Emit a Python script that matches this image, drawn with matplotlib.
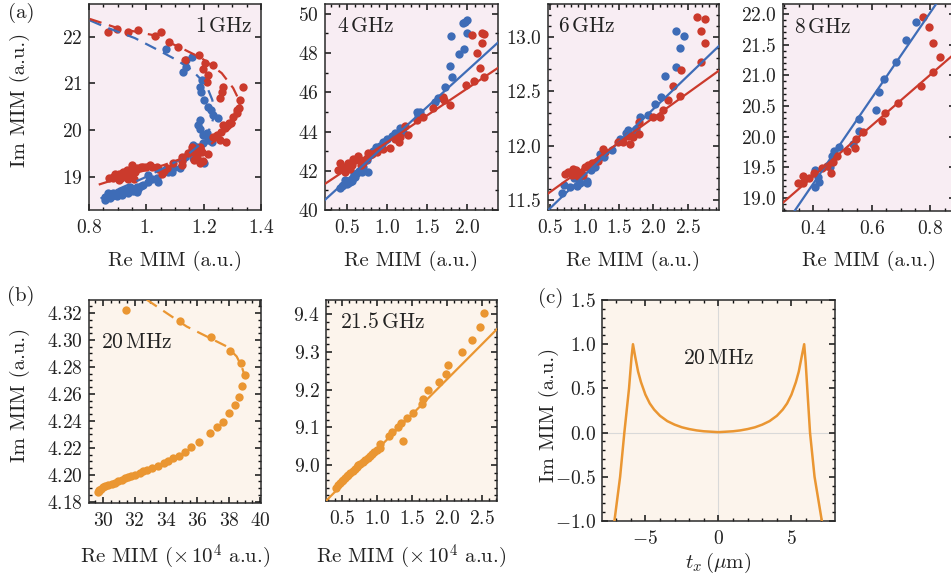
import numpy as np
import matplotlib
matplotlib.use("Agg")
import matplotlib.pyplot as plt
from matplotlib.ticker import FixedLocator, MultipleLocator, FixedFormatter

plt.rcParams['mathtext.fontset'] = 'cm'
plt.rcParams['font.family'] = ['cmr10', 'DejaVu Serif']
plt.rcParams['axes.unicode_minus'] = False

BLUE = '#3e6cb7'
RED = '#cb3a2c'
ORANGE = '#ea9632'
BG_A = '#f8edf3'
BG_B = '#fcf4ec'
FRAME = '#2a2a2a'

# ---------------- data: (a) 1 GHz ----------------
ghz1_red_re = [0.867, 0.897, 0.937, 0.972, 1.030, 1.051, 1.079, 1.111, 1.135, 1.185, 1.205, 1.234,
               1.197, 1.216, 1.213, 1.268, 1.263, 1.338, 1.257, 1.327, 1.323, 1.318, 1.301, 1.290,
               1.274, 1.259, 1.245, 1.257, 1.278, 1.234, 1.268, 1.297, 1.315,
               1.187, 1.158, 1.193, 1.216, 1.176, 1.165, 1.187, 1.123, 1.123, 1.094, 1.071, 1.054,
               1.036, 1.013, 0.989, 0.966, 0.949, 0.931, 0.920, 0.903, 0.885, 0.903, 0.940, 0.960,
               0.980, 1.000, 0.950, 0.925, 0.912, 0.870, 0.890, 1.020, 1.040, 1.060, 0.958, 0.935,
               1.147, 1.170, 1.181, 1.199, 1.123, 0.885, 0.902]
ghz1_red_im = [22.09, 22.16, 22.11, 22.14, 22.01, 22.11, 21.89, 21.79, 21.50, 21.61, 21.44, 21.39,
               21.30, 21.18, 21.02, 20.92, 20.82, 20.93, 20.68, 20.64, 20.47, 20.43, 20.29, 20.15,
               20.04, 19.95, 19.90, 19.79, 19.75, 19.86, 20.11, 20.15, 20.36,
               19.64, 19.64, 19.53, 19.49, 19.43, 19.36, 19.29, 19.43, 19.25, 19.29, 19.18, 19.07,
               19.22, 19.25, 19.22, 19.18, 19.25, 19.14, 19.11, 19.07, 19.00, 18.93, 19.05, 19.10,
               19.20, 19.22, 19.18, 19.02, 18.98, 18.98, 19.05, 19.20, 19.16, 19.12, 18.96, 18.95,
               19.52, 19.50, 19.57, 19.33, 19.33, 18.97, 19.00]
ghz1_blue_re = [1.069, 1.158, 1.138, 1.138, 1.127, 1.193, 1.187, 1.190, 1.201, 1.216, 1.227, 1.234,
                1.251, 1.187, 1.181, 1.187, 1.199, 1.216, 1.199, 1.228, 1.176, 1.158, 1.164, 1.202,
                1.123, 1.117, 1.094, 1.077, 1.059, 1.042, 1.007, 1.007, 0.989, 0.966, 0.966, 0.943,
                0.926, 0.902, 0.885, 0.867, 0.856, 0.873, 0.896, 0.915, 0.935, 0.955, 0.980, 1.020,
                1.036, 0.880, 0.910, 0.950, 1.135, 1.164, 1.210, 1.088, 0.972, 0.856]
ghz1_blue_im = [21.73, 21.56, 21.50, 21.36, 21.25, 21.07, 20.92, 20.82, 20.64, 20.50, 20.43, 20.32,
                20.25, 20.22, 20.11, 20.02, 19.90, 19.79, 19.72, 19.75, 19.64, 19.57, 19.40, 19.29,
                19.36, 19.18, 19.18, 19.11, 19.11, 18.90, 19.04, 18.90, 18.82, 18.79, 18.68, 18.79,
                18.72, 18.68, 18.65, 18.65, 18.50, 18.54, 18.58, 18.62, 18.66, 18.70, 18.80, 18.95,
                18.97, 18.60, 18.70, 18.74, 19.43, 19.68, 19.93, 19.11, 18.75, 18.57]
ghz1_blue_fit_re = [0.803, 0.856, 0.960, 1.036, 1.106, 1.158, 1.193, 1.216, 1.230, 1.236, 1.235,
                    1.229, 1.220, 1.205, 1.181, 1.135, 1.071, 0.989, 0.896, 0.821]
ghz1_blue_fit_im = [22.35, 22.21, 21.97, 21.73, 21.50, 21.29, 21.07, 20.86, 20.65, 20.45, 20.30,
                    20.15, 20.02, 19.85, 19.66, 19.43, 19.22, 18.97, 18.72, 18.47]
ghz1_red_fit_re = [0.803, 0.902, 1.019, 1.111, 1.193, 1.263, 1.303, 1.322, 1.328, 1.324, 1.312,
                   1.295, 1.272, 1.245, 1.216, 1.150, 1.060, 0.955, 0.827]
ghz1_red_fit_im = [22.38, 22.18, 22.04, 21.79, 21.54, 21.22, 20.90, 20.66, 20.47, 20.32, 20.18,
                   20.06, 19.93, 19.79, 19.66, 19.45, 19.25, 19.07, 18.82]

# ---------------- data: (a) 4 GHz ----------------
ghz4_blue_re = [1.971, 2.000, 1.943, 1.797, 2.000, 1.959, 1.901, 1.785, 1.806, 1.723, 1.639, 1.598,
                1.371, 1.412, 1.390, 1.163, 1.205, 1.060, 0.955, 0.914, 0.831, 0.790, 0.749, 0.769,
                0.687, 0.624, 0.583, 0.540, 0.458, 0.417, 0.500, 0.560, 0.600, 0.480, 0.590,
                0.650, 0.700, 1.100, 1.000, 0.870, 0.440, 0.520]
ghz4_blue_im = [49.57, 49.67, 49.53, 48.88, 49.01, 48.23, 47.96, 47.35, 46.80, 46.25, 45.70, 45.53,
                45.02, 44.97, 44.85, 44.17, 43.98, 43.79, 43.45, 43.28, 43.03, 42.80, 42.53, 41.95,
                41.95, 41.87, 41.61, 41.45, 41.28, 41.11, 41.30, 41.50, 41.70, 41.55, 41.85,
                42.00, 42.20, 43.90, 43.60, 43.20, 41.20, 41.40]
ghz4_red_re = [2.055, 2.179, 2.200, 2.187, 2.117, 2.158, 2.200, 2.083, 1.984, 1.694, 1.710, 1.785,
               1.578, 1.453, 1.371, 1.225, 1.266, 1.163, 1.150, 1.039, 0.873, 0.820, 0.749, 0.645,
               0.600, 0.520, 0.417, 0.395, 0.470, 0.560, 0.660, 0.760, 0.480, 0.430, 0.540, 0.700,
               0.950, 1.100, 0.580, 0.680]
ghz4_red_im = [48.93, 49.01, 48.95, 48.50, 47.99, 47.23, 46.77, 46.55, 46.38, 45.78, 45.61, 45.36,
               45.19, 44.76, 44.59, 44.29, 43.83, 43.74, 43.48, 43.14, 42.97, 42.85, 42.63, 42.76,
               42.55, 42.38, 42.42, 42.04, 42.20, 42.30, 42.55, 42.90, 41.95, 42.15, 42.10, 42.40,
               43.10, 43.60, 42.60, 42.30]
ghz4_blue_fit = (3.73, 39.66)   # slope, intercept
ghz4_red_fit = (2.75, 40.70)

# ---------------- data: (a) 6 GHz ----------------
ghz6_blue_re = [2.321, 2.441, 2.379, 2.331, 2.162, 2.114, 2.017, 1.921, 1.810, 1.753, 1.632, 1.600,
                1.512, 1.391, 1.222, 1.150, 1.100, 1.030, 1.040, 0.934, 0.886, 0.789, 0.669, 0.700,
                0.850, 0.960, 1.280, 1.700]
ghz6_blue_im = [13.05, 13.01, 12.90, 12.72, 12.64, 12.45, 12.38, 12.28, 12.26, 12.15, 12.14, 12.12,
                12.06, 11.96, 11.92, 11.80, 11.78, 11.68, 11.66, 11.66, 11.63, 11.62, 11.57, 11.64,
                11.70, 11.72, 11.90, 12.10]
ghz6_red_re = [2.634, 2.754, 2.692, 2.754, 2.692, 2.403, 2.282, 2.388, 2.210, 2.137, 2.090, 1.993,
               1.790, 1.790, 1.632, 1.656, 1.560, 1.487, 1.270, 1.198, 1.103, 0.837, 0.765, 0.720,
               0.880, 0.950, 1.000, 1.050, 0.900, 0.980, 1.300, 1.700, 0.820]
ghz6_red_im = [13.18, 13.16, 13.05, 12.94, 12.77, 12.69, 12.55, 12.46, 12.42, 12.33, 12.26, 12.26,
               12.22, 12.11, 12.09, 12.02, 12.03, 12.03, 11.97, 11.86, 11.84, 11.79, 11.76, 11.74,
               11.78, 11.75, 11.80, 11.82, 11.72, 11.73, 11.94, 12.08, 11.73]
ghz6_blue_fit = (0.608, 11.122)
ghz6_red_fit = (0.455, 11.347)

# ---------------- data: (a) 8 GHz ----------------
ghz8_blue_re = [0.751, 0.718, 0.682, 0.642, 0.624, 0.614, 0.558, 0.556, 0.535, 0.487, 0.471, 0.463,
                0.457, 0.406, 0.417, 0.421, 0.406]
ghz8_blue_im = [21.86, 21.58, 21.21, 20.94, 20.72, 20.43, 20.29, 20.10, 19.88, 19.84, 19.77, 19.68,
                19.51, 19.45, 19.35, 19.27, 19.18]
ghz8_red_re = [0.777, 0.797, 0.811, 0.834, 0.809, 0.768, 0.691, 0.646, 0.634, 0.571, 0.545, 0.543,
               0.517, 0.482, 0.466, 0.461, 0.446, 0.429, 0.402, 0.386, 0.366, 0.366, 0.349]
ghz8_red_im = [21.95, 21.79, 21.53, 21.29, 21.06, 20.82, 20.55, 20.38, 20.25, 20.07, 19.96, 19.81,
               19.77, 19.68, 19.59, 19.41, 19.52, 19.49, 19.41, 19.33, 19.36, 19.25, 19.25]
ghz8_blue_fit = (6.94, 16.461)
ghz8_red_fit = (4.12, 17.707)

# ---------------- data: (b) 20 MHz ----------------
mhz20_re = [31.45, 34.89, 36.85, 38.08, 38.76, 39.04, 38.87, 38.68, 38.40, 38.04, 37.62, 37.27,
            36.81, 36.13, 35.58, 35.21, 34.85, 34.43, 34.15, 33.85, 33.51, 33.09, 32.77, 32.55,
            32.34, 32.02, 31.80, 31.60, 31.38, 31.17, 30.95, 30.75, 30.55, 30.32, 30.15, 30.00,
            29.85, 29.75, 29.68, 29.72]
mhz20_im = [4.3225, 4.3138, 4.3020, 4.2915, 4.2830, 4.2740, 4.2660, 4.2576, 4.2519, 4.2457, 4.2395,
            4.2353, 4.2313, 4.2246, 4.2209, 4.2172, 4.2140, 4.2123, 4.2105, 4.2085, 4.2066, 4.2048,
            4.2036, 4.2025, 4.2016, 4.1999, 4.1990, 4.1982, 4.1972, 4.1962, 4.1952, 4.1942, 4.1933,
            4.1924, 4.1915, 4.1907, 4.1897, 4.1887, 4.1870, 4.1880]
mhz20_fit_re = [32.77, 34.04, 35.32, 36.60, 37.87, 38.50, 38.82, 39.00]
mhz20_fit_im = [4.3300, 4.3200, 4.3100, 4.3026, 4.2952, 4.2878, 4.2803, 4.2740]

# ---------------- data: (b) 21.5 GHz ----------------
ghz215_re = [2.533, 2.476, 2.357, 2.223, 2.023, 1.990, 1.890, 1.737, 1.666, 1.643, 1.514, 1.438,
             1.380, 1.343, 1.300, 1.214, 1.181, 1.047, 1.047, 1.000, 0.960, 0.929, 0.904, 0.870,
             0.833, 0.800, 0.762, 0.740, 0.714, 0.690, 0.657, 0.625, 0.595, 0.570, 0.547, 0.520,
             0.500, 0.475, 0.452, 0.419]
ghz215_im = [9.402, 9.365, 9.330, 9.300, 9.265, 9.242, 9.220, 9.198, 9.175, 9.162, 9.139, 9.125,
             9.063, 9.111, 9.100, 9.087, 9.076, 9.057, 9.045, 9.041, 9.036, 9.030, 9.023, 9.018,
             9.013, 9.008, 9.004, 8.999, 8.995, 8.990, 8.984, 8.979, 8.975, 8.970, 8.966, 8.961,
             8.957, 8.952, 8.948, 8.940]
ghz215_fit = (0.186, 8.854)

# ---------------- data: (c) line profile ----------------
tx_um = [-7.40, -7.12, -6.73, -6.44, -6.12, -5.95, -5.85, -5.70, -5.50, -5.30, -5.00, -4.70, -4.40,
         -4.00, -3.50, -3.00, -2.50, -2.00, -1.50, -1.00, -0.50, 0.00, 0.50, 1.00, 1.50, 2.00,
         2.50, 3.00, 3.50, 4.00, 4.40, 4.70, 5.00, 5.30, 5.50, 5.70, 5.87, 5.97, 6.10, 6.27,
         6.58, 7.08, 7.35]
im_profile = [-1.30, -1.00, -0.50, 0.00, 0.50, 0.85, 1.00, 0.86, 0.69, 0.57, 0.43, 0.33, 0.26,
              0.19, 0.13, 0.090, 0.060, 0.040, 0.025, 0.015, 0.010, 0.005, 0.010, 0.015, 0.025,
              0.040, 0.060, 0.090, 0.13, 0.19, 0.26, 0.33, 0.43, 0.57, 0.69, 0.86, 1.00, 0.80,
              0.45, 0.00, -0.50, -1.00, -1.30]

W, H = 951, 577
fig = plt.figure(figsize=(W / 100, H / 100), dpi=100)


def make_axes(left, right, top, bottom, face):
    ax = fig.add_axes([left / W, 1 - bottom / H, (right - left) / W, (bottom - top) / H])
    ax.set_facecolor(face)
    for s in ax.spines.values():
        s.set_color(FRAME)
        s.set_linewidth(1.1)
    ax.tick_params(which='both', direction='in', top=True, right=True, color='#111111',
                   labelsize=14, labelcolor='#222222')
    ax.tick_params(axis='x', pad=6.5)
    ax.tick_params(axis='y', pad=4.5)
    ax.tick_params(which='major', length=4.5, width=1.1)
    ax.tick_params(which='minor', length=2.5, width=1.0)
    return ax


def set_ticks(ax, axis, major, labels, minor=None):
    loc = ax.xaxis if axis == 'x' else ax.yaxis
    loc.set_major_locator(FixedLocator(major))
    loc.set_major_formatter(FixedFormatter([r'$%s$' % s for s in labels]))
    if minor is not None:
        loc.set_minor_locator(MultipleLocator(minor))


def scatter(ax, x, y, c):
    ax.plot(x, y, 'o', ms=6.0, mec='none', mfc=c, zorder=3)


def fit_line(ax, coef, c, x0, x1):
    xs = np.array([x0, x1])
    ax.plot(xs, coef[0] * xs + coef[1], '-', color=c, lw=1.6, zorder=4)


DASH = (0, (5.5, 3.5))
TXT = dict(fontsize=15.5, color='#222222')

# (a) 1 GHz
ax = make_axes(89, 261, 4, 210, BG_A)
scatter(ax, ghz1_blue_re, ghz1_blue_im, BLUE)
scatter(ax, ghz1_red_re, ghz1_red_im, RED)
ax.plot(ghz1_blue_fit_re, ghz1_blue_fit_im, color=BLUE, lw=1.6, ls=DASH, zorder=4)
ax.plot(ghz1_red_fit_re, ghz1_red_fit_im, color=RED, lw=1.6, ls=DASH, zorder=4)
ax.set_xlim(0.8, 1.4)
ax.set_ylim(18.29, 22.70)
set_ticks(ax, 'x', [0.8, 1.0, 1.2, 1.4], ['0.8', '1.', '1.2', '1.4'], 0.05)
set_ticks(ax, 'y', [19, 20, 21, 22], ['19', '20', '21', '22'])
ax.text(0.95, 0.89, '1$\\,$GHz', transform=ax.transAxes, ha='right', va='center', **TXT)

# (a) 4 GHz
ax = make_axes(325, 498, 4, 210, BG_A)
scatter(ax, ghz4_blue_re, ghz4_blue_im, BLUE)
scatter(ax, ghz4_red_re, ghz4_red_im, RED)
fit_line(ax, ghz4_blue_fit, BLUE, 0.2, 2.4)
fit_line(ax, ghz4_red_fit, RED, 0.2, 2.4)
ax.set_xlim(0.23, 2.38)
ax.set_ylim(40, 50.5)
set_ticks(ax, 'x', [0.5, 1.0, 1.5, 2.0], ['0.5', '1.0', '1.5', '2.0'], 0.1)
set_ticks(ax, 'y', [40, 42, 44, 46, 48, 50], ['40', '42', '44', '46', '48', '50'], 1)
ax.text(0.07, 0.89, '4$\\,$GHz', transform=ax.transAxes, ha='left', va='center', **TXT)

# (a) 6 GHz
ax = make_axes(548, 719, 4, 210, BG_A)
scatter(ax, ghz6_blue_re, ghz6_blue_im, BLUE)
scatter(ax, ghz6_red_re, ghz6_red_im, RED)
fit_line(ax, ghz6_blue_fit, BLUE, 0.45, 3.0)
fit_line(ax, ghz6_red_fit, RED, 0.45, 3.0)
ax.set_xlim(0.47, 2.95)
ax.set_ylim(11.41, 13.30)
set_ticks(ax, 'x', [0.5, 1.0, 1.5, 2.0, 2.5], ['0.5', '1.0', '1.5', '2.0', '2.5'], 0.1)
set_ticks(ax, 'y', [11.5, 12.0, 12.5, 13.0], ['11.5', '12.0', '12.5', '13.0'], 0.1)
ax.text(0.06, 0.89, '6$\\,$GHz', transform=ax.transAxes, ha='left', va='center', **TXT)

# (a) 8 GHz
ax = make_axes(783, 955, 4, 211, BG_A)
scatter(ax, ghz8_blue_re, ghz8_blue_im, BLUE)
scatter(ax, ghz8_red_re, ghz8_red_im, RED)
fit_line(ax, ghz8_blue_fit, BLUE, 0.28, 0.9)
fit_line(ax, ghz8_red_fit, RED, 0.28, 0.9)
ax.set_xlim(0.296, 0.886)
ax.set_ylim(18.79, 22.16)
set_ticks(ax, 'x', [0.4, 0.6, 0.8], ['0.4', '0.6', '0.8'], 0.05)
set_ticks(ax, 'y', [19.0, 19.5, 20.0, 20.5, 21.0, 21.5, 22.0],
          ['19.0', '19.5', '20.0', '20.5', '21.0', '21.5', '22.0'], 0.1)
ax.text(0.065, 0.89, '8$\\,$GHz', transform=ax.transAxes, ha='left', va='center', **TXT)

# (b) 20 MHz
ax = make_axes(89, 261, 300, 503, BG_B)
scatter(ax, mhz20_re, mhz20_im, ORANGE)
ax.plot(mhz20_fit_re, mhz20_fit_im, color=ORANGE, lw=1.6, ls=DASH, zorder=4)
ax.set_xlim(29.1, 40.05)
ax.set_ylim(4.179, 4.3297)
set_ticks(ax, 'x', [30, 32, 34, 36, 38, 40], ['30', '32', '34', '36', '38', '40'], 0.5)
set_ticks(ax, 'y', [4.18, 4.20, 4.22, 4.24, 4.26, 4.28, 4.30, 4.32],
          ['4.18', '4.20', '4.22', '4.24', '4.26', '4.28', '4.30', '4.32'], 0.005)
ax.text(0.07, 0.79, '20$\\,$MHz', transform=ax.transAxes, ha='left', va='center', **TXT)

# (b) 21.5 GHz
ax = make_axes(326, 497, 300, 501, BG_B)
scatter(ax, ghz215_re, ghz215_im, ORANGE)
fit_line(ax, ghz215_fit, ORANGE, 0.25, 2.75)
ax.set_xlim(0.276, 2.72)
ax.set_ylim(8.905, 9.437)
set_ticks(ax, 'x', [0.5, 1.0, 1.5, 2.0, 2.5], ['0.5', '1.0', '1.5', '2.0', '2.5'], 0.1)
set_ticks(ax, 'y', [8.9, 9.0, 9.1, 9.2, 9.3, 9.4], ['8.9', '9.0', '9.1', '9.2', '9.3', '9.4'], 0.02)
ax.text(0.08, 0.89, '21.5$\\,$GHz', transform=ax.transAxes, ha='left', va='center', **TXT)

# (c) line cut
ax = make_axes(602, 835, 300, 521, BG_B)
ax.axhline(0, color='#d9d9d9', lw=0.8, zorder=1)
ax.axvline(0, color='#d9d9d9', lw=0.8, zorder=1)
ax.plot(tx_um, im_profile, color=ORANGE, lw=1.8, zorder=3)
ax.set_xlim(-7.97, 7.98)
ax.set_ylim(-1.0, 1.5)
set_ticks(ax, 'x', [-5, 0, 5], ['-5', '0', '5'], 1)
set_ticks(ax, 'y', [-1.0, -0.5, 0.0, 0.5, 1.0, 1.5], ['-1.0', '-0.5', '0.0', '0.5', '1.0', '1.5'], 0.1)
ax.text(0.5, 0.735, '20$\\,$MHz', transform=ax.transAxes, ha='center', va='center', **TXT)

# axis titles and panel tags
LBL = dict(fontsize=15, color='#222222', ha='center', va='center')
fig.text(20 / W, 1 - 100 / H, 'Im MIM (a.u.)', rotation=90, **LBL)
fig.text(20 / W, 1 - 395 / H, 'Im MIM (a.u.)', rotation=90, **LBL)
fig.text(549 / W, 1 - 415 / H, 'Im MIM (a.u.)', rotation=90, **LBL)
for cx in (175, 411, 633, 869):
    fig.text(cx / W, 1 - 261 / H, 'Re MIM (a.u.)', **LBL)
fig.text(175 / W, 1 - 557 / H, 'Re MIM ($\\times\\,10^4$ a.u.)', **LBL)
fig.text(411 / W, 1 - 557 / H, 'Re MIM ($\\times\\,10^4$ a.u.)', **LBL)
fig.text(718 / W, 1 - 563 / H, '$t_x\\,(\\mu$m)', **LBL)
fig.text(21 / W, 1 - 13 / H, '(a)', **LBL)
fig.text(21 / W, 1 - 296 / H, '(b)', **LBL)
fig.text(551 / W, 1 - 298 / H, '(c)', **LBL)

fig.savefig('out.png', dpi=100)
